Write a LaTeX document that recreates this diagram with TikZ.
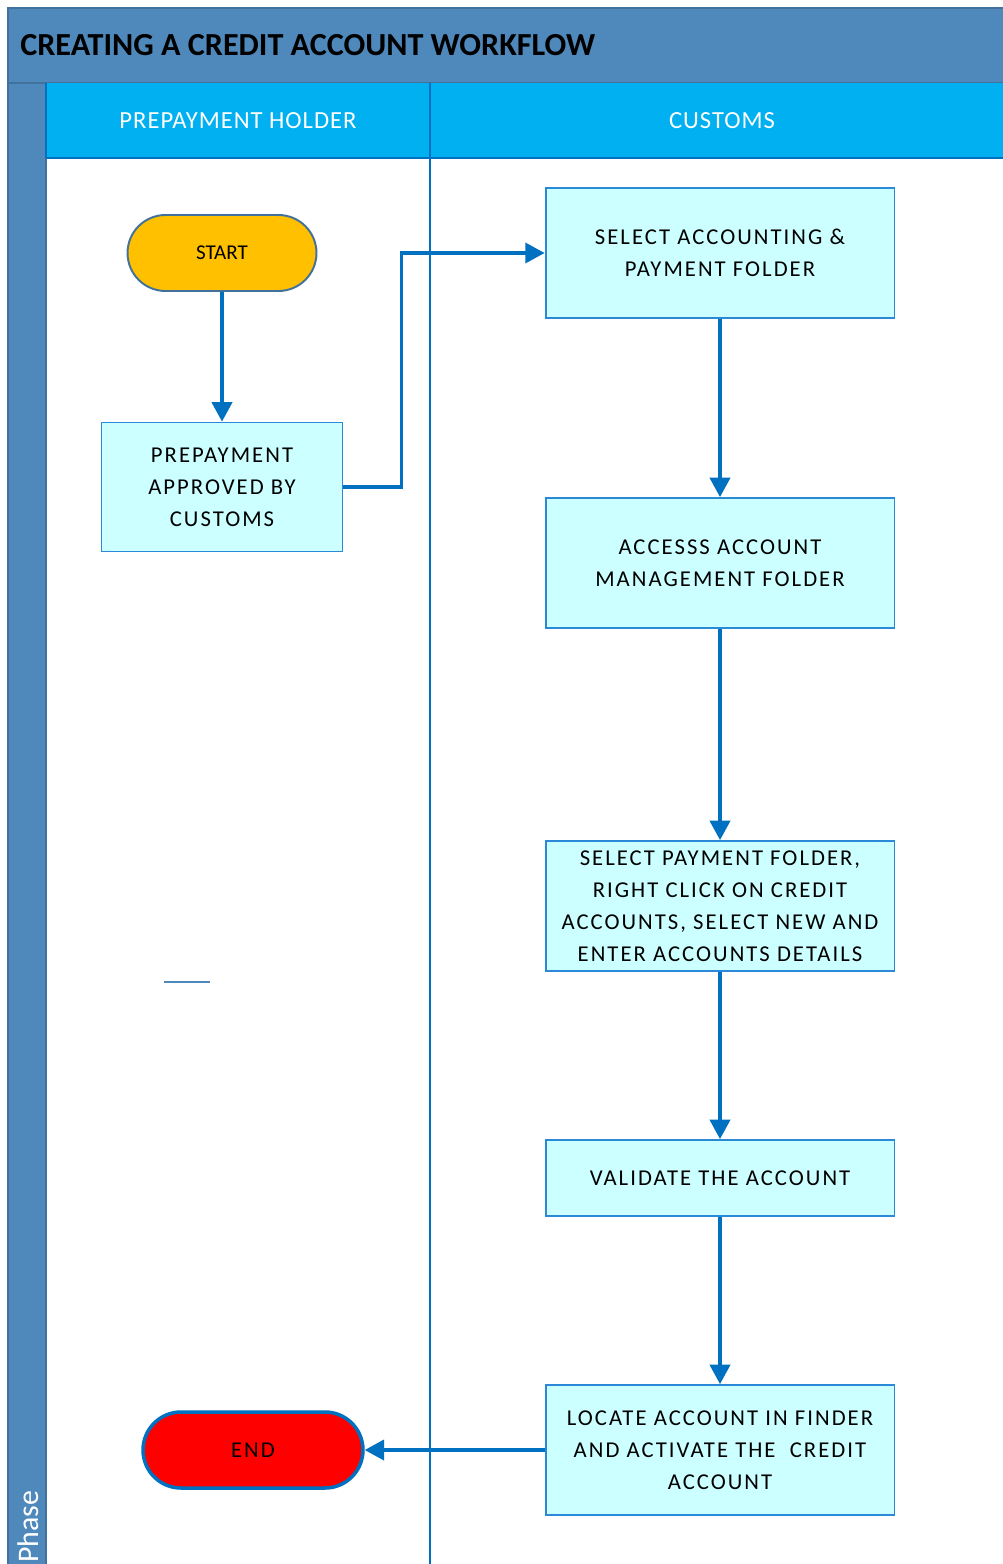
\documentclass[tikz,border=0pt]{standalone}
\usepackage{fontspec}
\setmainfont{Carlito}
\newfontfamily\boxfont[LetterSpace=9]{Carlito}
\newfontfamily\hdrfont[LetterSpace=4]{Carlito}
\usetikzlibrary{shapes.misc,arrows.meta}
\definecolor{phaseblue}{HTML}{4F88BB}
\definecolor{phaseline}{HTML}{41719C}
\definecolor{hdrcyan}{HTML}{00B0F0}
\definecolor{linkblue}{HTML}{0070C0}
\definecolor{boxfill}{HTML}{CCFFFF}
\definecolor{boxline}{HTML}{2A8AD8}
\definecolor{startfill}{HTML}{FFC000}
\begin{document}
\begin{tikzpicture}[x=0.02cm,y=-0.02cm,
  procbox/.style={draw=boxline, line width=1.1pt, fill=boxfill, minimum width=6.98cm,
    minimum height=2.6cm, align=center, inner sep=0pt,
    font=\boxfont\fontsize{12.9}{18.2}\selectfont},
  termnode/.style={rounded rectangle, minimum height=1.52cm, inner sep=0pt},
  flow/.style={draw=linkblue, line width=1.8pt, -{Triangle[length=11pt,width=11.5pt]}},
  laneline/.style={draw=linkblue, line width=1.1pt},
]
\useasboundingbox (0,0) rectangle (1003,1564);
\clip (0,0) rectangle (1003,1564);
\fill[white] (0,0) rectangle (1003,1564);
% pool frame
\filldraw[fill=phaseblue, draw=phaseline, line width=1pt] (8,8) rectangle (1010,83);
\filldraw[fill=phaseblue, draw=phaseline, line width=1pt] (8,83) rectangle (46,1570);
\fill[hdrcyan] (46,83) rectangle (1010,158);
\draw[laneline] (46,158) -- (1010,158);
\draw[laneline] (46,83) -- (46,158);
\draw[laneline] (430,83) -- (430,1570);
% texts of frame
\node[anchor=base west, inner sep=0, font=\bfseries\fontsize{18.3}{21}\selectfont] (title) at (20,56) {CREATING A CREDIT ACCOUNT WORKFLOW};
\node[anchor=base, inner sep=0, text=white, font=\hdrfont\fontsize{14}{16}\selectfont] (lane1) at (238,129) {PREPAYMENT HOLDER};
\node[anchor=base, inner sep=0, text=white, font=\hdrfont\fontsize{14}{16}\selectfont] (lane2) at (722,129) {CUSTOMS};
\node[rotate=90, anchor=base west, inner sep=0, text=white, font=\fontsize{17}{20}\selectfont] (phase) at (38,1563) {Phase};
% nodes
\node[termnode, fill=startfill, draw=phaseline, line width=1.1pt, minimum width=3.78cm, font=\fontsize{12}{14}\selectfont] (start) at (222,253) {START};
\node[procbox, minimum width=4.82cm, minimum height=2.58cm] (prep) at (222,487) {PREPAYMENT\\APPROVED BY\\CUSTOMS};
\node[procbox] (b1) at (720,253) {SELECT ACCOUNTING \&\\PAYMENT FOLDER};
\node[procbox] (b2) at (720,563) {ACCESSS ACCOUNT\\MANAGEMENT FOLDER};
\node[procbox] (b3) at (720,906) {SELECT PAYMENT FOLDER,\\RIGHT CLICK ON CREDIT\\ACCOUNTS, SELECT NEW AND\\ENTER ACCOUNTS DETAILS};
\node[procbox, minimum height=1.52cm] (b4) at (720,1178) {VALIDATE THE ACCOUNT};
\node[procbox] (b5) at (720,1450) {LOCATE ACCOUNT IN FINDER\\AND ACTIVATE THE\ \ CREDIT\\ACCOUNT};
\node[termnode, fill=red, draw=linkblue, line width=2pt, minimum width=4.4cm, font=\boxfont\fontsize{12.9}{14}\selectfont] (end) at (253,1450) {END};
% connectors
\draw[flow] (start.south) -- (prep.north);
\draw[flow] (prep.east) -- ++(58,0) |- (b1.west);
\draw[flow] (b1.south) -- (b2.north);
\draw[flow] (b2.south) -- (b3.north);
\draw[flow] (b3.south) -- (b4.north);
\draw[flow] (b4.south) -- (b5.north);
\draw[flow] (b5.west) -- (end.east);
% stray mark
\draw[phaseblue, line width=1.3pt] (164,982) -- (210,982);
\end{tikzpicture}
\end{document}
